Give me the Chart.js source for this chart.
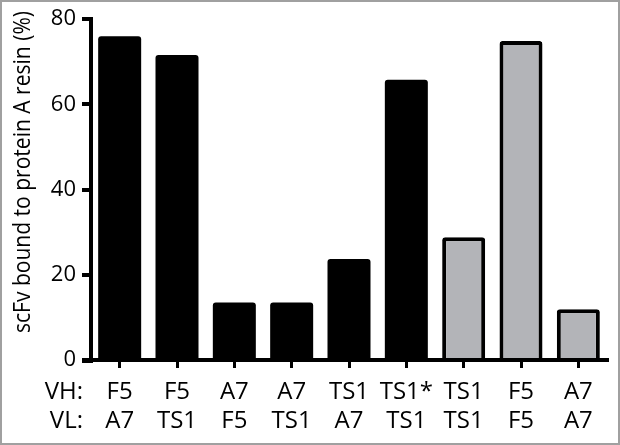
<!DOCTYPE html>
<html>
<head>
<meta charset="utf-8">
<script src="https://cdn.jsdelivr.net/npm/chart.js@4.4.0/dist/chart.umd.min.js"></script>
<style>
  body { margin: 0; background: #fff; }
  canvas { display: block; }
</style>
</head>
<body>
<canvas id="graficoLigacao" width="620" height="445"></canvas>
<script>
// dados
const cadeiaVH = ['F5', 'F5', 'A7', 'A7', 'TS1', 'TS1*', 'TS1', 'F5', 'A7']
const cadeiaVL = ['A7', 'TS1', 'F5', 'TS1', 'A7', 'TS1', 'TS1', 'F5', 'A7']
const ligacao = [76, 71.6, 13.5, 13.5, 23.7, 65.8, 28.8, 74.9, 11.9]
const grupo = ['preto', 'preto', 'preto', 'preto', 'preto', 'preto', 'cinza', 'cinza', 'cinza']
const marcasY = [0, 20, 40, 60, 80]

const tituloY = 'scFv bound to protein A resin (%)'
const fonte = '"Open Sans", "Noto Sans", sans-serif'

const cores = grupo.map(g => g === 'cinza' ? '#b3b4b8' : '#000000')
const bordas = grupo.map(g => g === 'cinza' ? 4 : 0)

const textosExtras = {
  id: 'textosExtras',
  afterDraw(chart) {
    const ctx = chart.ctx
    const eixoX = chart.scales.x
    const eixoY = chart.scales.y
    ctx.save()

    // canto onde os eixos se encontram
    ctx.strokeStyle = '#000'
    ctx.lineWidth = 4
    ctx.beginPath()
    ctx.moveTo(eixoY.right - 9, eixoX.top + 1)
    ctx.lineTo(eixoX.left + 2, eixoX.top + 1)
    ctx.stroke()

    ctx.fillStyle = '#000'
    // VH: / VL:
    ctx.font = '24px ' + fonte
    ctx.textAlign = 'right'
    ctx.textBaseline = 'middle'
    const linha1 = eixoX.top + 8 + 10 + 14.5
    ctx.fillText('VH:', 83, linha1)
    ctx.fillText('VL:', 83, linha1 + 29)

    // titulo do eixo y (fonte mais estreita no original)
    ctx.translate(23, 172)
    ctx.rotate(-Math.PI / 2)
    ctx.textAlign = 'center'
    ctx.font = '23px ' + fonte
    const largura = ctx.measureText(tituloY).width
    ctx.scale(Math.min(1, 322 / largura), 1)
    ctx.fillText(tituloY, 0, 0)
    ctx.restore()

    // moldura
    ctx.save()
    ctx.strokeStyle = '#a0a0a0'
    ctx.lineWidth = 2
    ctx.strokeRect(1, 1, chart.width - 2, chart.height - 2)
    ctx.restore()
  }
}

const grafico = new Chart(document.getElementById('graficoLigacao'), {
  type: 'bar',
  data: {
    labels: cadeiaVH.map((vh, i) => [vh, cadeiaVL[i]]),
    datasets: [{
      data: ligacao,
      backgroundColor: cores,
      borderColor: '#000',
      borderWidth: bordas,
      borderRadius: 3,
      borderSkipped: 'start',
      barPercentage: 0.75,
      categoryPercentage: 1
    }]
  },
  options: {
    responsive: false,
    animation: false,
    layout: { padding: { top: 16, right: 13, left: 0, bottom: 0 } },
    plugins: { legend: { display: false }, tooltip: { enabled: false } },
    scales: {
      x: {
        afterFit: (escala) => { escala.height = 85 },
        border: { display: true, width: 4, color: '#000' },
        grid: { display: true, offset: false, drawOnChartArea: false, drawTicks: true, tickLength: 8, lineWidth: 3, color: '#000' },
        ticks: {
          color: '#000',
          padding: 10,
          maxRotation: 0,
          autoSkip: false,
          font: { family: fonte, size: 24, lineHeight: 1.2 }
        }
      },
      y: {
        min: 0,
        max: 80,
        afterFit: (escala) => { escala.width = 91 },
        afterBuildTicks: (escala) => { escala.ticks = marcasY.map(v => ({ value: v })) },
        border: { display: true, width: 4, color: '#000' },
        grid: { display: true, drawOnChartArea: false, drawTicks: true, tickLength: 9, lineWidth: 4, color: '#000' },
        ticks: {
          color: '#000',
          padding: 6,
          font: { family: fonte, size: 22 }
        }
      }
    }
  },
  plugins: [textosExtras]
})
</script>
</body>
</html>
